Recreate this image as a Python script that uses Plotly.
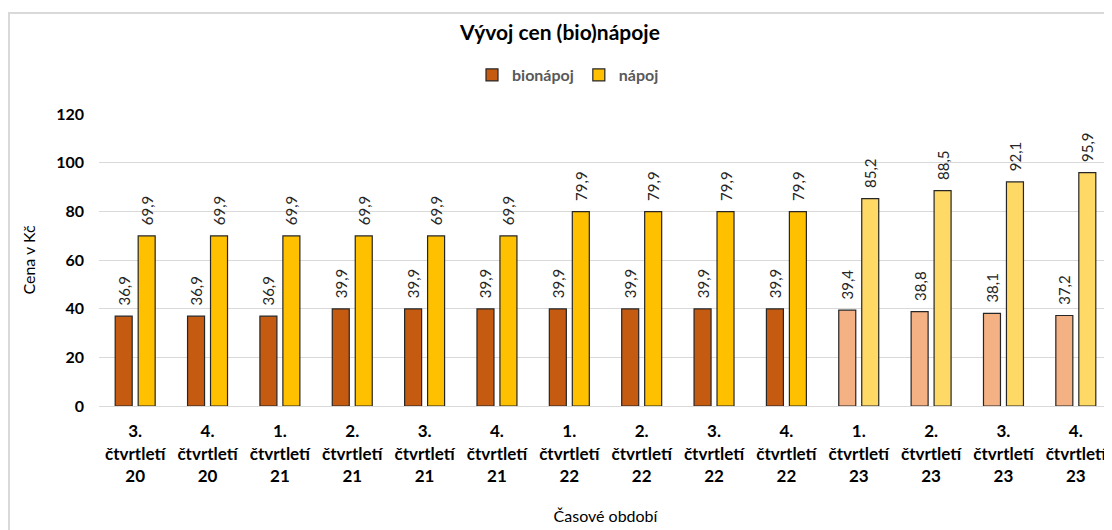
import plotly.graph_objects as go

# ── data ─────────────────────────────────────────────────────────────────────
quarters = ['3.', '4.', '1.', '2.', '3.', '4.', '1.', '2.', '3.', '4.', '1.', '2.', '3.', '4.']
years    = ['20', '20', '21', '21', '21', '21', '22', '22', '22', '22', '23', '23', '23', '23']
bionapoj = [36.9, 36.9, 36.9, 39.9, 39.9, 39.9, 39.9, 39.9, 39.9, 39.9, 39.4, 38.8, 38.1, 37.2]
napoj    = [69.9, 69.9, 69.9, 69.9, 69.9, 69.9, 79.9, 79.9, 79.9, 79.9, 85.2, 88.5, 92.1, 95.9]
n_estimated = 4   # last quarters drawn in lighter shades

categories = [f'{q}<br>čtvrtletí<br>{y}' for q, y in zip(quarters, years)]

FONT = 'Lato, Open Sans, sans-serif'
n = len(categories)
bio_colors = ['#C55A11'] * (n - n_estimated) + ['#F4B183'] * n_estimated
nap_colors = ['#FFC000'] * (n - n_estimated) + ['#FFD966'] * n_estimated

# page body has an 8px margin -> lay out in window pixels minus 8
OFF = 8
FW, FH = 1112 - OFF, 530 - OFF
L, T, B = 99 - OFF, 114 - OFF, 406 - OFF
W = FW - L
H = B - T

fig = go.Figure()
for name, vals, cols in (('bionápoj', bionapoj, bio_colors), ('nápoj', napoj, nap_colors)):
    fig.add_trace(go.Bar(
        x=categories, y=vals, name=f'<b>{name}</b>',
        marker=dict(color=cols, line=dict(color='#262626', width=1.2)),
        texttemplate='\u00a0\u00a0%{y:.1f}', textposition='outside', textangle=-90,
        constraintext='none',
        textfont=dict(size=15, color='#262626', family=FONT),
        cliponaxis=False,
    ))


def px_x(p): return (p - OFF - L) / W
def px_y(p): return (B - (p - OFF)) / H


# outer chart border (light gray frame, partly cut by the window)
fig.add_shape(type='rect', xref='paper', yref='paper',
              x0=px_x(9), x1=px_x(1130), y0=px_y(13), y1=px_y(560),
              line=dict(color='#D9D9D9', width=2), layer='below')

fig.update_layout(
    width=FW, height=FH,
    margin=dict(l=L, r=0, t=T, b=FH - B),
    paper_bgcolor='white', plot_bgcolor='white',
    separators=', ',
    font=dict(family=FONT, color='#000000'),
    title=dict(text='<b>Vývoj cen (bio)nápoje</b>', x=(560 - OFF) / FW, xref='container',
               y=1 - (33 - OFF) / FH, yref='container', yanchor='middle',
               font=dict(size=21, color='#000000', family=FONT)),
    legend=dict(orientation='h', x=(568 - OFF) / FW, xanchor='center', xref='container',
                y=1 - (75 - OFF) / FH, yref='container', yanchor='middle',
                font=dict(size=16, color='#595959', family=FONT),
                itemwidth=30, traceorder='normal'),
    bargap=0.365, bargroupgap=0.26,
    showlegend=True,
)

fig.update_yaxes(range=[0, 120], showgrid=True, gridcolor='#D9D9D9',
                 gridwidth=1, zeroline=False,
                 tickvals=list(range(0, 121, 20)),
                 ticktext=[f'<b>{v}</b>' for v in range(0, 121, 20)],
                 tickfont=dict(size=16, color='#000000', family=FONT),
                 ticks='', ticklabelstandoff=14,
                 title=dict(text='Cena v Kč', font=dict(size=16, family=FONT),
                            standoff=16))
fig.update_xaxes(showline=True, linecolor='#D9D9D9', linewidth=1,
                 tickvals=categories,
                 ticktext=[f'<b>{c}</b>' for c in categories],
                 tickfont=dict(size=17, color='#000000', family=FONT),
                 ticks='', tickangle=0, ticklabelstandoff=10,
                 title=dict(text='Časové období', font=dict(size=16, family=FONT),
                            standoff=26))

fig.write_html('out.html')
